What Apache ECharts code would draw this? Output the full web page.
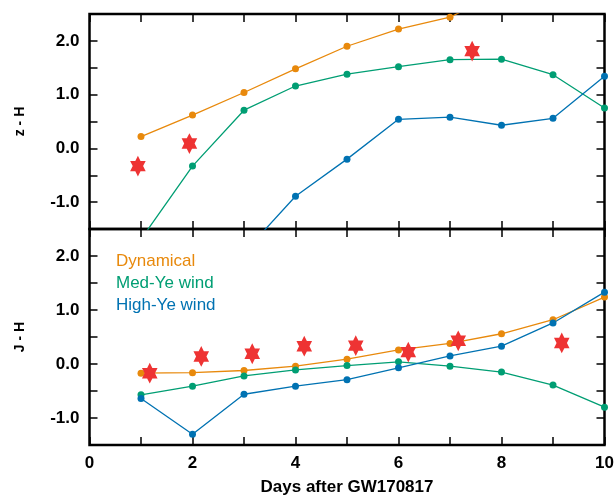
<!DOCTYPE html>
<html>
<head>
<meta charset="utf-8">
<script src="https://cdn.jsdelivr.net/npm/echarts@6/dist/echarts.min.js"></script>
<style>
html,body{margin:0;padding:0;background:#fff;}
#chart{width:616px;height:495px;}
</style>
</head>
<body>
<div id="chart"></div>
<script>
// ---- data ----
var days = [1, 2, 3, 4, 5, 6, 7, 8, 9, 10];
var seriesNames = ['Dynamical', 'Med-Ye wind', 'High-Ye wind'];
// z - H (top panel), models
var zhDynamical = [0.22, 0.62, 1.04, 1.48, 1.90, 2.22, 2.44, 2.92, null, null];
var zhMedYe     = [-1.69, -0.33, 0.71, 1.16, 1.38, 1.52, 1.65, 1.66, 1.37, 0.75];
var zhHighYe    = [null, null, -1.94, -0.89, -0.20, 0.54, 0.58, 0.43, 0.56, 1.34];
// J - H (bottom panel), models
var jhDynamical = [-0.17, -0.16, -0.12, -0.04, 0.09, 0.26, 0.38, 0.56, 0.82, 1.24];
var jhMedYe     = [-0.57, -0.41, -0.22, -0.11, -0.03, 0.04, -0.04, -0.15, -0.39, -0.80];
var jhHighYe    = [-0.64, -1.30, -0.56, -0.41, -0.29, -0.07, 0.15, 0.33, 0.76, 1.33];
// observations (stars)
var zhObsDays = [0.94, 1.94, 7.43];
var zhObs     = [-0.33, 0.09, 1.81];
var jhObsDays = [1.17, 2.17, 3.16, 4.17, 5.17, 6.19, 7.16, 9.17];
var jhObs     = [-0.17, 0.14, 0.19, 0.33, 0.34, 0.22, 0.43, 0.39];
// axis labels
var xTickLabels = ['0', '2', '4', '6', '8', '10'];
var yTickLabels = ['-1.0', '0.0', '1.0', '2.0'];
var yTitles = ['z - H', 'J - H'];
var xTitle = 'Days after GW170817';

// ---- styling ----
var colors = ['#E8890C', '#009E73', '#0072B2'];
var starColor = '#EE3333';
var FONT = '"Liberation Sans", Arial, Helvetica, sans-serif';
var STAR = 'path://M100 0 L128.87 50 L186.6 50 L157.74 100 L186.6 150 L128.87 150 L100 200 L71.13 150 L13.4 150 L42.26 100 L13.4 50 L71.13 50 Z';

function pairs(xs, ys) {
  return xs.map(function (x, i) { return [x, ys[i]]; });
}

var tick = { show: true, inside: true, length: 8, lineStyle: { color: '#000', width: 1.5 } };

function xAxisDef(grid, pos, labels, name) {
  return {
    type: 'value', gridIndex: grid, position: pos, min: 0, max: 10, interval: 1,
    axisLine: { show: false, onZero: false }, axisTick: tick, splitLine: { show: false },
    axisLabel: labels ? {
      show: true, margin: 10, color: '#000', fontFamily: FONT, fontWeight: 'bold', fontSize: 17,
      formatter: function (v) { var s = String(v); return xTickLabels.indexOf(s) >= 0 ? s : ''; }
    } : { show: false },
    name: name || '', nameLocation: 'middle', nameGap: 34,
    nameTextStyle: { color: '#000', fontFamily: FONT, fontWeight: 'bold', fontSize: 17 }
  };
}
function yAxisDef(grid, pos, labels, name) {
  return {
    type: 'value', gridIndex: grid, position: pos, min: -1.5, max: 2.5, interval: 0.5,
    axisLine: { show: false, onZero: false }, axisTick: tick, splitLine: { show: false },
    axisLabel: labels ? {
      show: true, margin: 10, color: '#000', fontFamily: FONT, fontWeight: 'bold', fontSize: 17,
      formatter: function (v) { var s = v.toFixed(1); return yTickLabels.indexOf(s) >= 0 ? s : ''; }
    } : { show: false },
    name: name || '', nameLocation: 'middle', nameGap: 62, nameRotate: 90,
    nameTextStyle: { color: '#000', fontFamily: FONT, fontWeight: 'bold', fontSize: 14 }
  };
}

function lineSeries(name, xi, yi, vals, ci) {
  return {
    name: name, type: 'line', xAxisIndex: xi, yAxisIndex: yi,
    data: pairs(days, vals), clip: true,
    symbol: 'circle', symbolSize: 7, showSymbol: true,
    lineStyle: { color: colors[ci], width: 1.3 },
    itemStyle: { color: colors[ci] },
    z: 3, animation: false
  };
}
function starSeries(xi, yi, xs, ys) {
  return {
    name: 'Observed', type: 'scatter', xAxisIndex: xi, yAxisIndex: yi,
    data: pairs(xs, ys), symbol: STAR, symbolSize: [18, 20.8], symbolKeepAspect: true,
    itemStyle: { color: starColor, opacity: 1 }, z: 5, animation: false
  };
}

var chart = echarts.init(document.getElementById('chart'), null, { renderer: 'canvas' });
chart.setOption({
  backgroundColor: '#fff',
  animation: false,
  grid: [
    { left: 89.5, top: 14, width: 515, height: 215, show: true, borderColor: '#000', borderWidth: 2.5,
      backgroundColor: 'transparent', containLabel: false, outerBoundsMode: 'none' },
    { left: 89.5, top: 229, width: 515, height: 216, show: true, borderColor: '#000', borderWidth: 2.5,
      backgroundColor: 'transparent', containLabel: false, outerBoundsMode: 'none' }
  ],
  legend: {
    show: true, orient: 'vertical', left: 106, top: 245,
    itemWidth: 0, itemHeight: 22, itemGap: 0, icon: 'rect', selectedMode: false,
    itemStyle: { opacity: 0 }, lineStyle: { opacity: 0 },
    data: seriesNames.map(function (n, i) {
      return { name: n, textStyle: { color: colors[i], fontFamily: FONT, fontSize: 17 } };
    })
  },
  xAxis: [
    xAxisDef(0, 'bottom', false),
    xAxisDef(0, 'top', false),
    xAxisDef(1, 'bottom', true, xTitle),
    xAxisDef(1, 'top', false)
  ],
  yAxis: [
    yAxisDef(0, 'left', true, yTitles[0]),
    yAxisDef(0, 'right', false),
    yAxisDef(1, 'left', true, yTitles[1]),
    yAxisDef(1, 'right', false)
  ],
  series: [
    lineSeries(seriesNames[0], 0, 0, zhDynamical, 0),
    lineSeries(seriesNames[1], 0, 0, zhMedYe, 1),
    lineSeries(seriesNames[2], 0, 0, zhHighYe, 2),
    lineSeries(seriesNames[0], 2, 2, jhDynamical, 0),
    lineSeries(seriesNames[1], 2, 2, jhMedYe, 1),
    lineSeries(seriesNames[2], 2, 2, jhHighYe, 2),
    starSeries(0, 0, zhObsDays, zhObs),
    starSeries(2, 2, jhObsDays, jhObs)
  ]
});
</script>
</body>
</html>
